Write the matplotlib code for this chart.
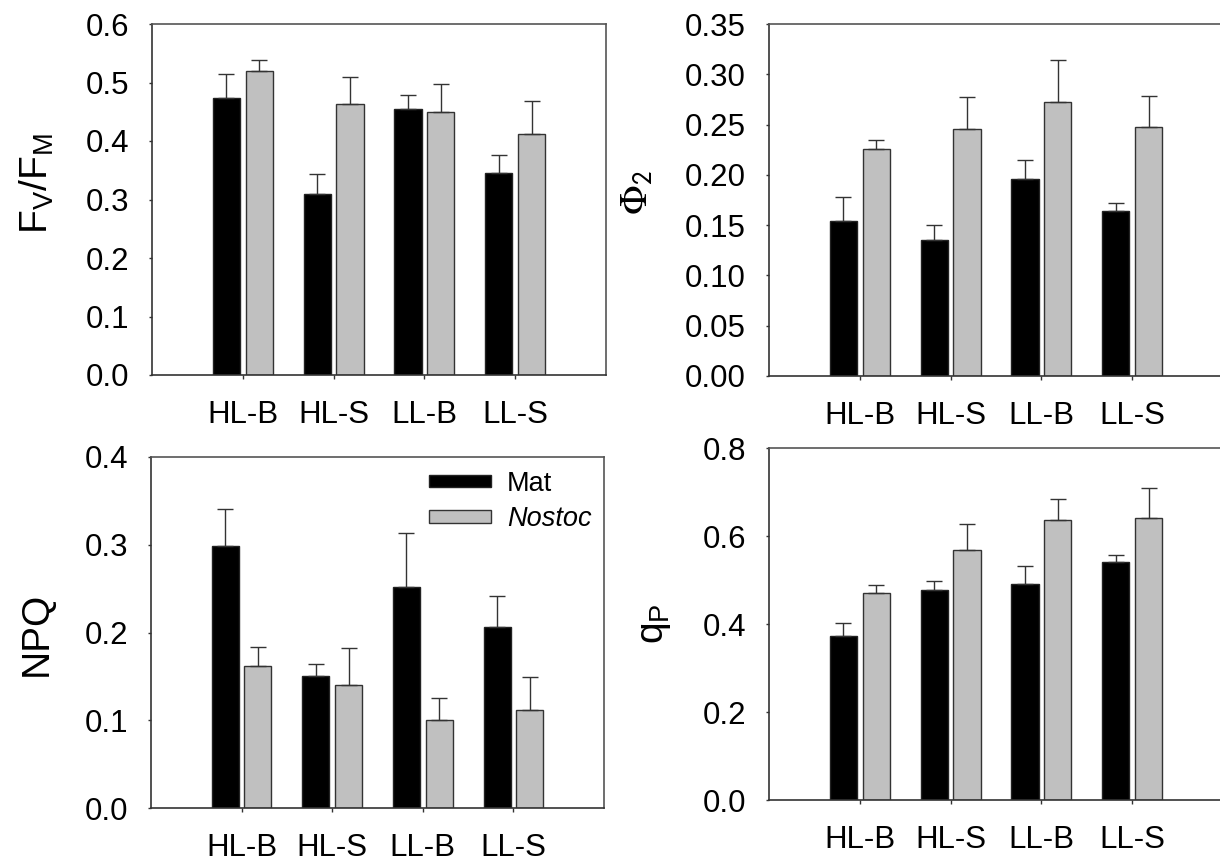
import matplotlib
matplotlib.use("Agg")
import matplotlib.pyplot as plt
import numpy as np

plt.rcParams['font.family'] = ['Liberation Sans', 'DejaVu Sans']
plt.rcParams['mathtext.fontset'] = 'custom'
plt.rcParams['mathtext.rm'] = 'Liberation Sans'
plt.rcParams['mathtext.it'] = 'Liberation Sans:italic'

categories = ["HL-B", "HL-S", "LL-B", "LL-S"]

fvfm_mat = [0.474, 0.310, 0.454, 0.346]
fvfm_mat_err = [0.041, 0.034, 0.025, 0.030]
fvfm_nos = [0.520, 0.464, 0.450, 0.412]
fvfm_nos_err = [0.018, 0.045, 0.047, 0.057]

phi2_mat = [0.154, 0.135, 0.196, 0.164]
phi2_mat_err = [0.024, 0.015, 0.019, 0.008]
phi2_nos = [0.226, 0.246, 0.272, 0.248]
phi2_nos_err = [0.009, 0.031, 0.042, 0.030]

npq_mat = [0.299, 0.150, 0.252, 0.206]
npq_mat_err = [0.042, 0.014, 0.061, 0.036]
npq_nos = [0.162, 0.140, 0.100, 0.112]
npq_nos_err = [0.021, 0.042, 0.025, 0.037]

qp_mat = [0.372, 0.477, 0.491, 0.542]
qp_mat_err = [0.030, 0.020, 0.041, 0.014]
qp_nos = [0.471, 0.569, 0.636, 0.642]
qp_nos_err = [0.017, 0.058, 0.048, 0.066]

W, H = 1220, 861
fig = plt.figure(figsize=(W / 100, H / 100), dpi=100)

TICK_FS = 22.5
LABEL_FS = 28


def px_axes(left, top, right, bottom):
    return fig.add_axes([left / W, 1 - bottom / H, (right - left) / W, (bottom - top) / H])


def panel(ax, mat, mat_err, nos, nos_err, ymax, yticks, fmt, show_right=True):
    x = np.arange(len(categories))
    off, bw = 0.18, 0.3
    ax.bar(x - off, mat, bw, color='black', edgecolor='#222222', linewidth=1.0,
           label='Mat', zorder=2)
    ax.bar(x + off, nos, bw, color='#c0c0c0', edgecolor='#333333', linewidth=1.0,
           label='Nostoc', zorder=2)
    ax.errorbar(x - off, mat, yerr=[np.zeros(len(mat)), mat_err], fmt='none',
                ecolor='#333333', elinewidth=1.0, capsize=6, capthick=1.0, zorder=3)
    ax.errorbar(x + off, nos, yerr=[np.zeros(len(nos)), nos_err], fmt='none',
                ecolor='#333333', elinewidth=1.0, capsize=6, capthick=1.0, zorder=3)
    ax.set_xlim(-1, 4)
    ax.set_ylim(0, ymax)
    ax.set_xticks(x)
    ax.set_xticklabels(categories)
    ax.set_yticks(yticks)
    ax.set_yticklabels([fmt.format(v) for v in yticks])
    ax.tick_params(axis='x', direction='out', length=3, width=1, pad=15,
                   labelsize=TICK_FS, colors='#333333', labelcolor='black')
    ax.tick_params(axis='y', direction='out', length=2.5, width=1, pad=14,
                   labelsize=TICK_FS, colors='#333333', labelcolor='black')
    for s in ax.spines.values():
        s.set_color('#555555')
        s.set_linewidth(1.2)
    ax.spines['left'].set_color('#333333')
    ax.spines['bottom'].set_color('#333333')
    if not show_right:
        ax.spines['right'].set_visible(False)


ax1 = px_axes(152, 24, 606, 375)
panel(ax1, fvfm_mat, fvfm_mat_err, fvfm_nos, fvfm_nos_err, 0.6,
      np.round(np.arange(0, 0.61, 0.1), 2), "{:.1f}")

ax2 = px_axes(769, 24, 1223, 376)
panel(ax2, phi2_mat, phi2_mat_err, phi2_nos, phi2_nos_err, 0.35,
      np.round(np.arange(0, 0.351, 0.05), 2), "{:.2f}", show_right=False)

ax3 = px_axes(151, 457, 604, 808)
panel(ax3, npq_mat, npq_mat_err, npq_nos, npq_nos_err, 0.4,
      np.round(np.arange(0, 0.41, 0.1), 2), "{:.1f}")

ax4 = px_axes(769, 448, 1223, 800)
panel(ax4, qp_mat, qp_mat_err, qp_nos, qp_nos_err, 0.8,
      np.round(np.arange(0, 0.81, 0.2), 2), "{:.1f}", show_right=False)

# y-axis labels
fig.text(37 / W, 1 - 184 / H, r'$\mathregular{F_V/F_M}$', rotation=90,
         ha='center', va='center', fontsize=LABEL_FS)
fig.text(638 / W, 1 - 192 / H, r'$\Phi_\mathsf{2}$', rotation=90,
         ha='center', va='center', fontsize=LABEL_FS, math_fontfamily='stix')
fig.text(37 / W, 1 - 634 / H, 'NPQ', rotation=90,
         ha='center', va='center', fontsize=LABEL_FS)
fig.text(655 / W, 1 - 624 / H, r'$\mathregular{q_P}$', rotation=90,
         ha='center', va='center', fontsize=LABEL_FS)

# legend
fs = 19.5
leg = ax3.legend(loc='center left',
                 bbox_to_anchor=((429 - 151) / 453, (808 - 501.5) / 351),
                 frameon=False, fontsize=fs, borderpad=0, borderaxespad=0,
                 handlelength=62 / (fs * 1.389), handleheight=9 / (fs * 1.389),
                 handletextpad=0.6, labelspacing=0.35)
leg.get_texts()[1].set_style('italic')

fig.savefig("out.png", dpi=100)
